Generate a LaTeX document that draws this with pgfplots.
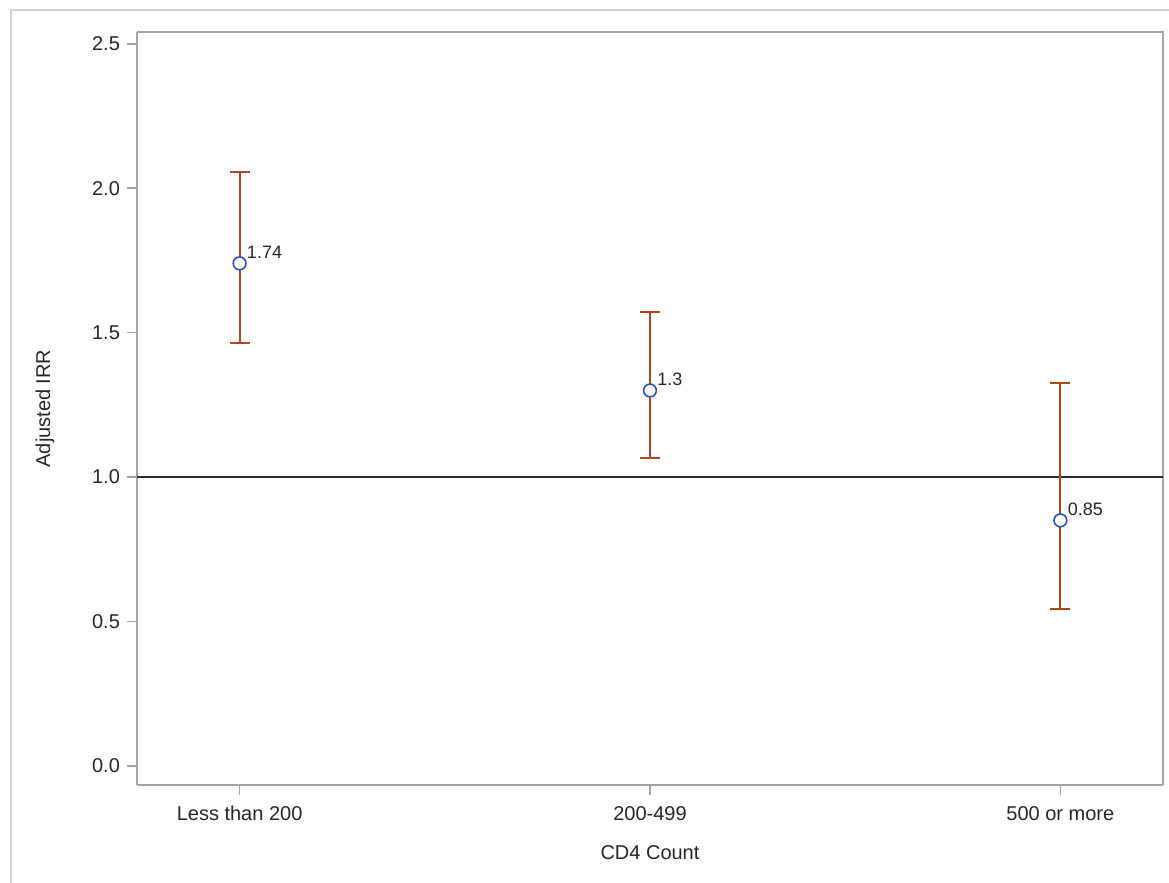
\documentclass[border=0pt]{standalone}
\usepackage{pgfplots}
\pgfplotsset{compat=1.18}
\usepackage{pgfplotstable}
\usepackage{fontspec}
\setmainfont{Liberation Sans}

\definecolor{barred}{RGB}{180,70,28}
\definecolor{markblue}{RGB}{40,80,190}
\definecolor{framegray}{RGB}{160,166,166}
\definecolor{refline}{RGB}{45,45,45}

% x, estimate, upper and lower distances of the CI
\pgfplotstableread{
x  y     ep     em     lab
0  1.74  0.317  0.275  1.74
1  1.30  0.272  0.234  1.3
2  0.85  0.476  0.306  0.85
}\irr

\begin{document}
\begin{tikzpicture}
\useasboundingbox (-68.5pt,-49pt) rectangle (516pt,392.5pt);
\draw[gray!35,line width=0.8pt] (-63pt,-49pt) -- (-63pt,387.5pt) -- (516pt,387.5pt);
\begin{axis}[
at={(0,0)},anchor=south west,
scale only axis,
width=513pt,height=376.5pt,
xmin=-0.25,xmax=2.25,
ymin=-0.066,ymax=2.541,
xtick={0,1,2},
xticklabels={Less than 200,200-499,500 or more},
ytick={0,0.5,...,2.5},
yticklabel style={/pgf/number format/.cd,fixed,fixed zerofill,precision=1},
/pgf/number format/assume math mode=true,
tick align=outside,
major tick length=5pt,
tick style={framegray,line width=0.8pt},
axis line style={framegray,line width=0.8pt},
axis x line*=bottom,axis y line*=left,
tick label style={font=\fontsize{10}{12}\selectfont,text=black!85},
xticklabel style={yshift=-2pt},
xlabel={CD4 Count},
ylabel={Adjusted IRR},
label style={font=\fontsize{10}{12}\selectfont,text=black!85},
xlabel style={at={(axis description cs:0.5,0)},anchor=center,yshift=-34pt},
ylabel style={at={(axis description cs:0,0.5)},anchor=center,yshift=46pt},
clip=false,
]
\draw[framegray,line width=0.8pt] (rel axis cs:0,1) -- (rel axis cs:1,1) -- (rel axis cs:1,0);
\addplot[refline,line width=1pt] coordinates {(-0.25,1) (2.25,1)};
\addplot[only marks,
  mark=*,mark size=3.2pt,
  mark options={draw=markblue,fill=white,line width=0.8pt},
  error bars/.cd,y dir=both,y explicit,
  error bar style={barred,line width=1pt},
  error mark options={barred,rotate=90,mark size=5pt,line width=1pt},
] table[x=x,y=y,y error plus=ep,y error minus=em] {\irr};
\addplot[only marks,mark=none,
  nodes near coords,point meta=explicit symbolic,
  every node near coord/.append style={anchor=west,inner sep=0pt,
    xshift=3.5pt,yshift=5.5pt,font=\fontsize{9}{11}\selectfont,text=black!85},
] table[x=x,y=y,meta=lab] {\irr};
\end{axis}
\end{tikzpicture}
\end{document}
